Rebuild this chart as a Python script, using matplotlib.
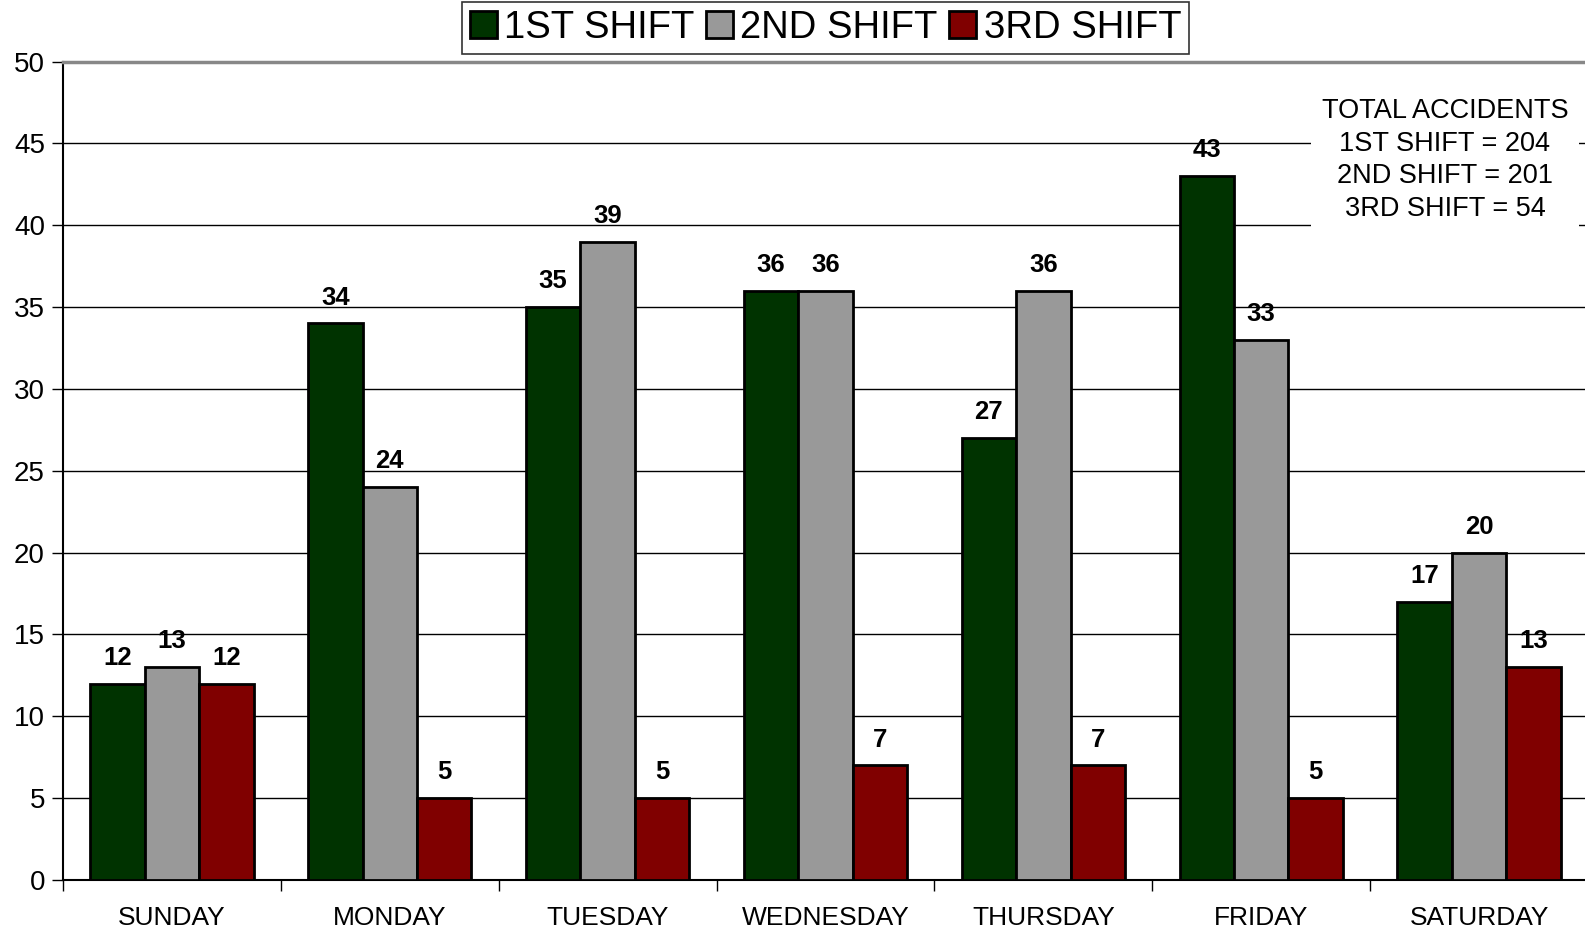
import numpy as np
import matplotlib
matplotlib.use('Agg')
import matplotlib.pyplot as plt

plt.rcParams['font.family'] = ['Liberation Sans', 'DejaVu Sans']

days = ['SUNDAY', 'MONDAY', 'TUESDAY', 'WEDNESDAY', 'THURSDAY', 'FRIDAY', 'SATURDAY']
shift_1 = [12, 34, 35, 36, 27, 43, 17]
shift_2 = [13, 24, 39, 36, 36, 33, 20]
shift_3 = [12, 5, 5, 7, 7, 5, 13]
shift_names = ['1ST SHIFT', '2ND SHIFT', '3RD SHIFT']
colors = ['#003300', '#999999', '#800000']

fig = plt.figure(figsize=(15.85, 9.32), dpi=100)
ax = fig.add_axes([63 / 1585, 1 - 880 / 932, (1588 - 63) / 1585, (880 - 61.5) / 932])

x = np.arange(len(days))
w = 0.25
for i, (vals, name, c) in enumerate(zip([shift_1, shift_2, shift_3], shift_names, colors)):
    ax.bar(x + (i - 1) * w, vals, w, color=c, edgecolor='black', linewidth=2,
           label=name, zorder=3)
    for xi, v in zip(x + (i - 1) * w, vals):
        ax.annotate(str(v), (xi, v), xytext=(0, 10), textcoords='offset points',
                    ha='center', va='bottom', fontsize=18.5, fontweight='bold', zorder=4)

ax.set_xlim(-0.5, len(days) - 0.5)
ax.set_ylim(0, 50)
ax.set_yticks(range(0, 51, 5))
ax.set_xticks(np.arange(-0.5, len(days), 1))
ax.set_xticklabels([])
ax.set_xticks(x, minor=True)
ax.set_xticklabels(days, minor=True)
ax.tick_params(axis='x', which='minor', length=0, pad=19, labelsize=19)
ax.tick_params(axis='x', which='major', length=8, width=1)
ax.tick_params(axis='y', length=8, width=1, labelsize=20, pad=5)

ax.yaxis.grid(True, color='black', linewidth=1)
ax.set_axisbelow(True)
ax.spines['right'].set_visible(False)
ax.spines['top'].set_color('#888888')
ax.spines['top'].set_linewidth(2.5)
ax.spines['left'].set_linewidth(1.5)
ax.spines['bottom'].set_linewidth(1.5)

leg = ax.legend(loc='upper center', bbox_to_anchor=(0.5, 1.0 + 59 / 818), ncol=3, fontsize=27.5,
                frameon=True, fancybox=False, edgecolor='black', handlelength=0.7,
                handleheight=0.7, handletextpad=0.2, columnspacing=0.3, borderpad=0.2,
                borderaxespad=0)
leg.get_frame().set_linewidth(1.2)

ax.text((1445 - 63) / 1525, 1 - (160 - 61.5) / 818,
        'TOTAL ACCIDENTS\n1ST SHIFT = 204\n2ND SHIFT = 201\n3RD SHIFT = 54',
        transform=ax.transAxes, ha='center', va='center', fontsize=19.5, linespacing=1.33,
        bbox=dict(facecolor='white', edgecolor='none', pad=8), zorder=5)

fig.savefig('out.png', dpi=100)
